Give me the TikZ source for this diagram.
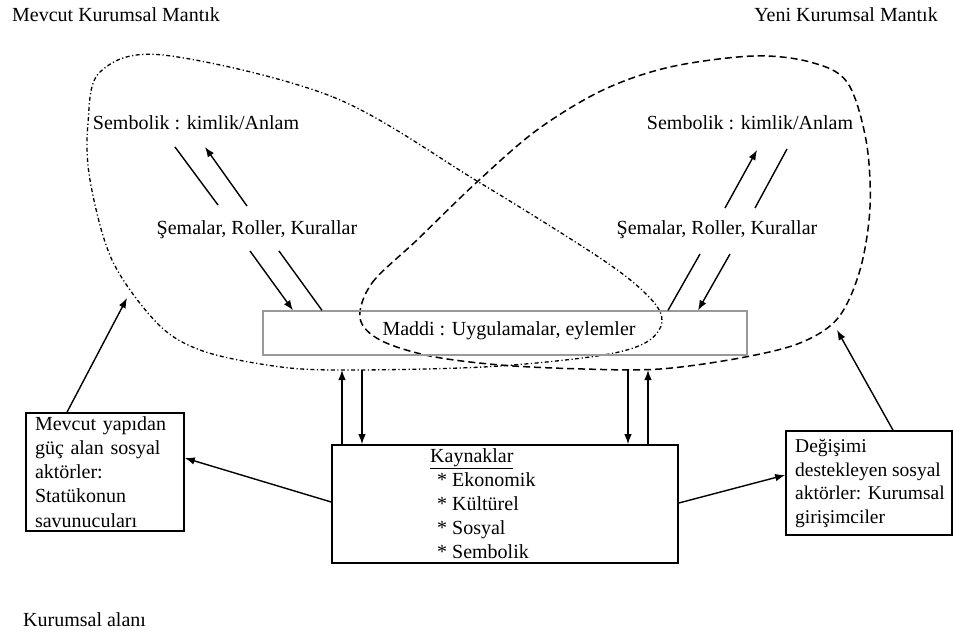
\documentclass[tikz,border=0pt]{standalone}
\usepackage{fontspec}
\setmainfont{Liberation Serif}
\usetikzlibrary{arrows.meta}
\begin{document}
\begin{tikzpicture}[x=1pt,y=-1pt,
  txt/.style={font=\fontsize{20}{24.3}\selectfont, inner sep=0pt},
  boxs/.style={draw, line width=1.6pt, inner sep=0pt, font=\fontsize{20}{24.1}\selectfont},
  arr/.style={line width=1.4pt, -{Latex[length=10pt,width=7.5pt]}},
  ln/.style={line width=1.4pt},
  loopA/.style={line width=1.3pt, dash pattern=on 4pt off 2.5pt on 1.2pt off 2.5pt},
  loopB/.style={line width=1.5pt, dash pattern=on 7pt off 4pt}]
\useasboundingbox (0,0) rectangle (953,632);

% titles
\node[txt, anchor=west] (tl) at (12,15) {Mevcut Kurumsal Mantık};
\node[txt, anchor=east] (tr) at (938,15) {Yeni Kurumsal Mantık};
\node[txt, anchor=west] (bl) at (23,620) {Kurumsal alanı};

% loops
\draw[loopA] plot[smooth cycle, tension=0.55] coordinates {
  (163,55) (333,97) (477,181) (603,260) (650,298) (662,322) (645,343)
  (597,356) (483,367) (333,370) (267,365) (200,350) (157,323) (112,260)
  (90,180) (88,123) (100,72)};
\draw[loopB] plot[smooth cycle, tension=0.55] coordinates {
  (360,318) (372,283) (417,240) (477,182) (537,130) (603,90) (670,67)
  (753,56) (810,62) (847,82) (866,140) (870,207) (860,270) (838,318)
  (800,343) (740,358) (660,369) (583,369) (500,365) (430,356) (380,340)};

% labels in loops
\node[txt] (symL) at (196,123) {Sembolik : kimlik/Anlam};
\node[txt] (symR) at (750,123) {Sembolik : kimlik/Anlam};
\node[txt] (semL) at (257,230) {Şemalar, Roller, Kurallar};
\node[txt] (semR) at (717,230) {Şemalar, Roller, Kurallar};

% Maddi box
\node[draw=gray!80, line width=1.3pt, minimum width=484pt, minimum height=44pt, inner sep=0pt] (mad) at (505,333) {};
\node[txt] (madt) at (509,331) {Maddi : Uygulamalar, eylemler};

% Kaynaklar
\node[boxs, minimum width=346pt, minimum height=118pt] (kay) at (505,504) {};
\node[txt, anchor=north west, align=left, font=\fontsize{20}{24}\selectfont] (kayt) at (430,448) {\underline{Kaynaklar}\\\hspace*{7pt}* Ekonomik\\\hspace*{7pt}* Kültürel\\\hspace*{7pt}* Sosyal\\\hspace*{7pt}* Sembolik};

% side boxes
\node[boxs, minimum width=158pt, minimum height=118pt, text width=140pt, inner xsep=9pt, align=left] (lbox) at (105,472) {Mevcut yapıdan\\güç alan sosyal\\aktörler:\\Statükonun\\savunucuları};
\node[boxs, minimum width=166pt, minimum height=104pt] (rbox) at (869,483) {};
\node[txt, anchor=north west, align=left, font=\fontsize{19.5}{23.6}\selectfont] (rtxt) at (795,439) {Değişimi\\destekleyen sosyal\\aktörler: Kurumsal\\girişimciler};

% coordinates
\coordinate (a1) at (175,147); \coordinate (a2) at (218,205);
\coordinate (a3) at (247,206); \coordinate (a4) at (205,147);
\coordinate (b1) at (250,251); \coordinate (b3) at (279,251);
\coordinate (c1) at (725,208); \coordinate (c2) at (757,150);
\coordinate (c3) at (755,208); \coordinate (c4) at (787,149);
\coordinate (d1) at (700,254); \coordinate (d3) at (730,254);
\coordinate (v1) at (342,370); \coordinate (v2) at (362,370);
\coordinate (v3) at (628,370); \coordinate (v4) at (648,370);
\coordinate (cL) at (127,298); \coordinate (cR) at (837,330);

% diagonal arrows
\draw[ln] (a1) -- (a2);
\draw[arr] (a3) -- (a4);
\draw[arr] (b1) -- ([xshift=-212pt]mad.north);
\draw[ln] (b3) -- ([xshift=-183pt]mad.north);
\draw[arr] (c1) -- (c2);
\draw[ln] (c3) -- (c4);
\draw[ln] (d1) -- ([xshift=163pt]mad.north);
\draw[arr] (d3) -- ([xshift=193pt]mad.north);

% vertical arrows
\draw[arr] ([xshift=-163pt]kay.north) -- (v1);
\draw[arr] (v2) -- ([xshift=-143pt]kay.north);
\draw[arr] (v3) -- ([xshift=123pt]kay.north);
\draw[arr] ([xshift=143pt]kay.north) -- (v4);

% side arrows
\draw[arr] ([yshift=2pt]kay.west) -- ([yshift=14pt]lbox.east);
\draw[arr] ([yshift=1pt]kay.east) -- ([yshift=8pt]rbox.west);
\draw[arr] ([xshift=-38pt]lbox.north) -- (cL);
\draw[arr] ([xshift=24pt]rbox.north) -- (cR);
\end{tikzpicture}
\end{document}
